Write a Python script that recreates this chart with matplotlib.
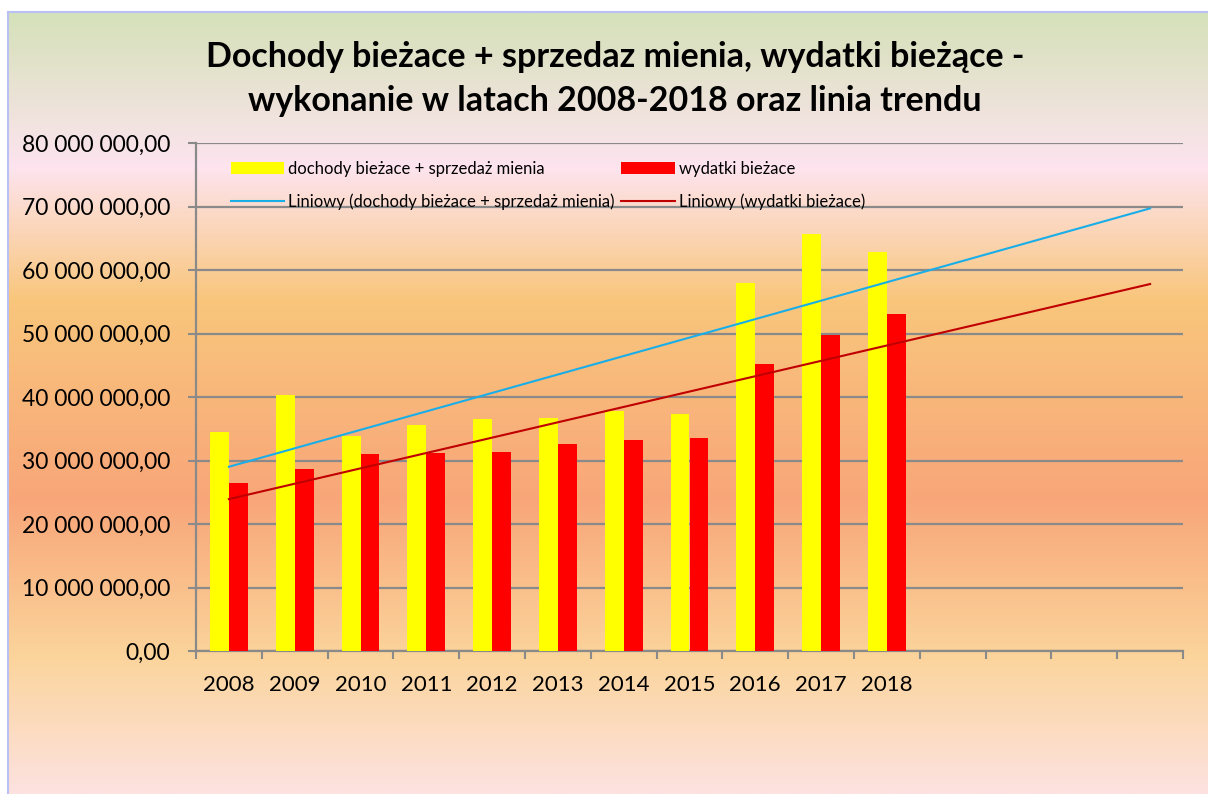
import numpy as np
import matplotlib
matplotlib.use('Agg')
import matplotlib.pyplot as plt
from matplotlib.colors import LinearSegmentedColormap
from matplotlib.lines import Line2D

plt.rcParams['font.family'] = ['Lato', 'DejaVu Sans']

# data
years = ['2008', '2009', '2010', '2011', '2012', '2013', '2014', '2015', '2016', '2017', '2018']
n_cats = 15  # 4 empty categories for the trend forecast
dochody = [34.5, 40.3, 33.9, 35.6, 36.5, 36.7, 37.8, 37.3, 58.0, 65.6, 62.8]   # mln
wydatki = [26.5, 28.7, 31.0, 31.2, 31.4, 32.6, 33.2, 33.6, 45.2, 49.8, 53.0]   # mln
lab_doch = 'dochody bieżace + sprzedaż mienia'
lab_wyd = 'wydatki bieżace'
title = 'Dochody bieżace + sprzedaz mienia, wydatki bieżące -\nwykonanie w latach 2008-2018 oraz linia trendu'

W, H = 1208, 794
fig = plt.figure(figsize=(W / 100, H / 100), dpi=100)

# background gradient
stops = [(12, '#d5e1b9'), (165, '#fde4ef'), (300, '#f9c67c'), (500, '#f8a679'),
         (657, '#fbd49b'), (794, '#fde2e0')]
cmap = LinearSegmentedColormap.from_list(
    'bg', [((p - 12) / (794 - 12), c) for p, c in stops])
bg = fig.add_axes([8 / W, 0, 1 - 8 / W, 1 - 12 / H])
bg.imshow(np.linspace(0, 1, 400).reshape(-1, 1), cmap=cmap, aspect='auto',
          extent=[0, 1, 1, 0])
bg.axis('off')
bcol = '#b8c0f4'
fig.add_artist(Line2D([8 / W, 8 / W], [0, 1 - 12 / H], color=bcol, lw=1.5,
                      transform=fig.transFigure))
fig.add_artist(Line2D([8 / W, 1], [1 - 12 / H, 1 - 12 / H], color=bcol, lw=1.5,
                      transform=fig.transFigure))

ax = fig.add_axes([196 / W, 1 - 651 / H, (1183 - 196) / W, (651 - 143) / H])
ax.patch.set_alpha(0)

x = np.arange(len(years))
bw = 0.287
ax.bar(x - bw / 2, np.array(dochody) * 1e6, width=bw, color='#ffff00', label=lab_doch, zorder=3)
ax.bar(x + bw / 2, np.array(wydatki) * 1e6, width=bw, color='#ff0000', label=lab_wyd, zorder=3)

# linear trend lines, extended over the empty categories
xt = np.array([0, n_cats - 1])
p1 = np.polyfit(x, np.array(dochody) * 1e6, 1)
p2 = np.polyfit(x, np.array(wydatki) * 1e6, 1)
l1, = ax.plot(xt, np.polyval(p1, xt), color='#1aaee8', lw=1.5, zorder=4,
              label='Liniowy (' + lab_doch + ')')
l2, = ax.plot(xt, np.polyval(p2, xt), color='#c00000', lw=1.5, zorder=4,
              label='Liniowy (' + lab_wyd + ')')

ax.set_xlim(-0.5, n_cats - 0.5)
ax.set_ylim(0, 80e6)
ax.set_yticks(np.arange(0, 80e6 + 1, 10e6))
ax.set_yticklabels([f'{v:,.2f}'.replace(',', ' ').replace('.', ',') for v in np.arange(0, 80e6 + 1, 10e6)])
ax.yaxis.grid(True, color='#8a8a8a', lw=1.6, zorder=0)
ax.set_axisbelow(True)

ax.set_xticks(np.arange(-0.5, n_cats, 1.0))
ax.set_xticklabels([])
ax.set_xticks(np.arange(n_cats), minor=True)
ax.set_xticklabels(years + [''] * (n_cats - len(years)), minor=True)
ax.tick_params(axis='x', which='major', length=6, width=1.5, color='#8a8a8a')
ax.tick_params(axis='x', which='minor', length=0, pad=17, labelsize=16)
ax.tick_params(axis='y', length=5.5, width=1.5, color='#8a8a8a', pad=13, labelsize=16.5)
for s in ['top', 'right']:
    ax.spines[s].set_visible(False)
for s in ['left', 'bottom']:
    ax.spines[s].set_color('#8a8a8a')
    ax.spines[s].set_linewidth(1.6)

handles, labels = ax.get_legend_handles_labels()
# order for two columns: row1 bars, row2 trends
order = [2, 0, 3, 1]
h = [handles[i] for i in order]
lb = [labels[i] for i in order]
ax.legend(h, lb, ncol=2, frameon=False, fontsize=12, loc='upper left',
          bbox_to_anchor=(0.02, 0.995), handlelength=3.2, handleheight=0.75,
          handletextpad=0.25, columnspacing=0.4, labelspacing=1.0)

fig.text(615 / W, 1 - 79 / H, title, ha='center', va='center', fontsize=24.5,
         fontweight='bold', linespacing=1.45)

fig.savefig('out.png', dpi=100)
